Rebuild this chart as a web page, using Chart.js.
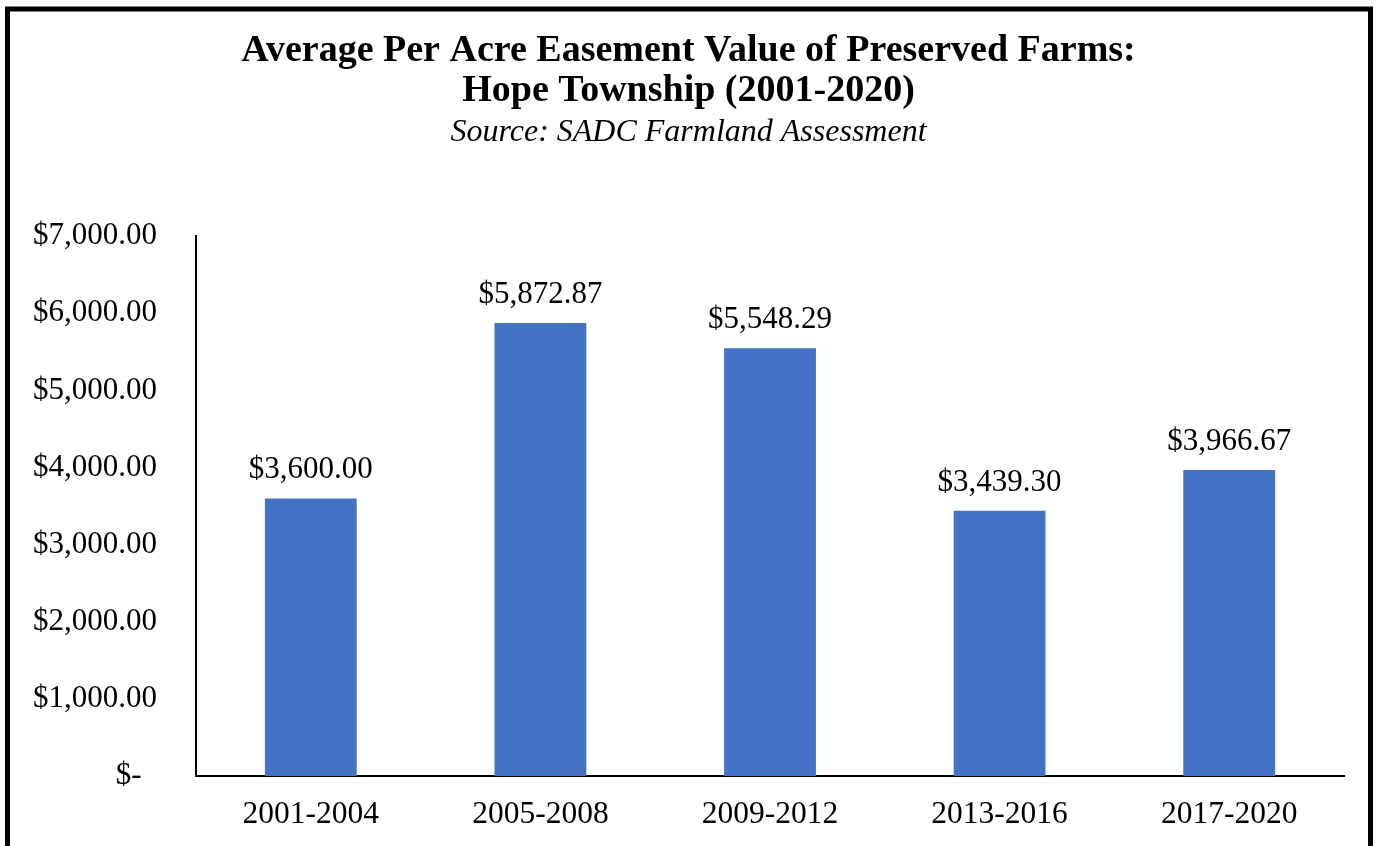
<!DOCTYPE html>
<html>
<head>
<meta charset="utf-8">
<script src="https://cdn.jsdelivr.net/npm/chart.js@4"></script>
<style>
  html, body { margin: 0; padding: 0; background: #fff; }
  #wrap { width: 1377px; height: 846px; }
</style>
</head>
<body>
<div id="wrap"><canvas id="easement"></canvas></div>
<script>
// DATA
const periods = ['2001-2004', '2005-2008', '2009-2012', '2013-2016', '2017-2020'];
const easementValues = [3600.00, 5872.87, 5548.29, 3439.30, 3966.67];
const yTicks = [0, 1000, 2000, 3000, 4000, 5000, 6000, 7000];

const serif = "'Liberation Serif', 'Times New Roman', serif";

const money = (v) => '$' + v.toLocaleString('en-US', { minimumFractionDigits: 2, maximumFractionDigits: 2 });

// frame round the whole chart
const framePlugin = {
  id: 'frame',
  afterDraw(chart) {
    const ctx = chart.ctx;
    ctx.save();
    ctx.strokeStyle = '#000';
    ctx.lineWidth = 5;
    ctx.strokeRect(7.5, 9, 1363, 860);
    ctx.restore();
  }
};

// value labels above each bar
const barLabels = {
  id: 'barLabels',
  afterDatasetsDraw(chart) {
    const ctx = chart.ctx;
    const meta = chart.getDatasetMeta(0);
    ctx.save();
    ctx.font = '31px ' + serif;
    ctx.fillStyle = '#000';
    ctx.textAlign = 'center';
    ctx.textBaseline = 'alphabetic';
    meta.data.forEach((bar, i) => {
      ctx.fillText(money(easementValues[i]), bar.x, bar.y - 20);
    });
    ctx.restore();
  }
};

const ctx = document.getElementById('easement');

new Chart(ctx, {
  type: 'bar',
  data: {
    labels: periods,
    datasets: [{
      data: easementValues,
      backgroundColor: '#4472C4',
      borderWidth: 0,
      barPercentage: 0.4,
      categoryPercentage: 1.0
    }]
  },
  options: {
    responsive: true,
    maintainAspectRatio: false,
    animation: false,
    layout: {
      padding: { left: 33, right: 33, top: 31, bottom: 0 }
    },
    plugins: {
      legend: { display: false },
      tooltip: { enabled: false },
      title: {
        display: true,
        text: ['Average Per Acre Easement Value of Preserved Farms:', 'Hope Township (2001-2020)'],
        color: '#000',
        font: { family: serif, size: 38, weight: 'bold', lineHeight: 1.05 },
        padding: { top: 0, bottom: 3 }
      },
      subtitle: {
        display: true,
        text: 'Source: SADC Farmland Assessment',
        color: '#000',
        font: { family: serif, size: 32, style: 'italic' },
        padding: { top: 0, bottom: 84 }
      }
    },
    scales: {
      x: {
        grid: { display: false, drawTicks: false },
        border: { display: true, color: '#000', width: 2 },
        afterFit(axis) { axis.height = 70; },
        ticks: {
          color: '#000',
          font: { family: serif, size: 31.5 },
          padding: 20,
          maxRotation: 0
        }
      },
      y: {
        min: 0,
        max: 7000,
        afterBuildTicks(axis) {
          axis.ticks = yTicks.map(v => ({ value: v }));
        },
        afterFit(axis) { axis.width = 163; },
        grid: { display: false, drawTicks: false },
        border: { display: true, color: '#000', width: 2 },
        ticks: {
          color: '#000',
          font: { family: serif, size: 31 },
          padding: 39,
          callback: (v) => v === 0 ? '$-  ' : money(v)
        }
      }
    }
  },
  plugins: [framePlugin, barLabels]
});
</script>
</body>
</html>
